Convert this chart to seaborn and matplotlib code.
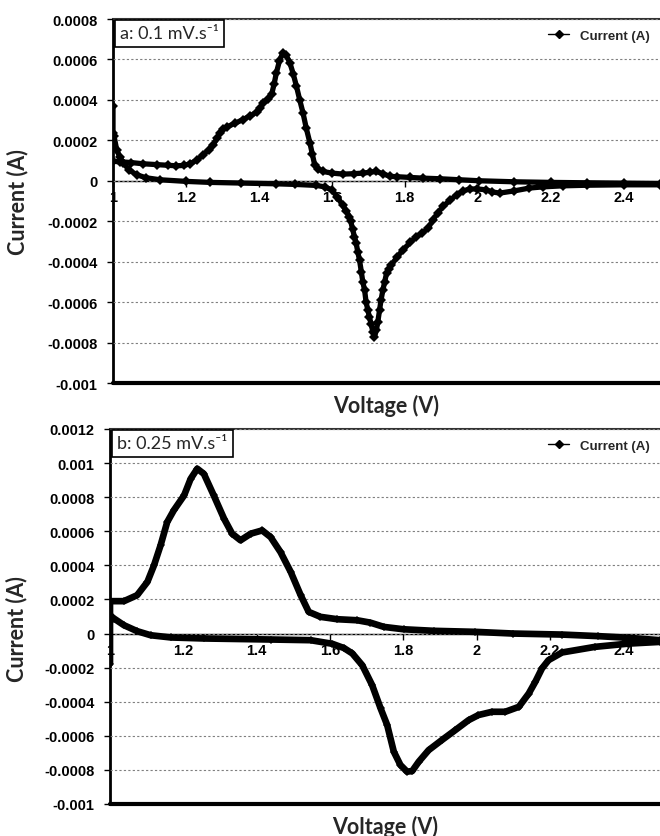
import numpy as np
import pandas as pd
import matplotlib
matplotlib.use("Agg")
import matplotlib.pyplot as plt
import seaborn as sns
from matplotlib.ticker import FuncFormatter, FixedLocator
from matplotlib.lines import Line2D

# ---------------- data ----------------
# Panel a: 0.1 mV/s, anodic sweep (1.0 -> 2.5 V)
a_an_v = [1.000, 1.02, 1.05, 1.083, 1.12, 1.15, 1.174, 1.195, 1.211, 1.23,
          1.247, 1.262, 1.275, 1.285, 1.293, 1.302, 1.312, 1.335, 1.357, 1.375,
          1.394, 1.404, 1.412, 1.425, 1.435, 1.442, 1.448, 1.456, 1.465, 1.475,
          1.485, 1.494, 1.503, 1.512, 1.521, 1.530, 1.540, 1.547, 1.553, 1.562,
          1.576, 1.60, 1.631, 1.66, 1.686, 1.705, 1.722, 1.74, 1.759, 1.78,
          1.814, 1.85, 1.896, 1.95, 2.005, 2.1, 2.2, 2.3, 2.4, 2.5]
a_an_i = [0.000096, 0.000094, 0.00009, 0.000084, 0.00008, 0.000077, 0.000074, 0.000076, 0.000084, 0.000102,
          0.000129, 0.000152, 0.000179, 0.00021, 0.000237, 0.000255, 0.000266, 0.000285, 0.000303, 0.00032,
          0.000339, 0.000362, 0.000385, 0.000405, 0.000427, 0.00048, 0.000534, 0.00059, 0.00063, 0.00062,
          0.000584, 0.00053, 0.000468, 0.0004, 0.000336, 0.00026, 0.000187, 0.00013, 0.000079, 0.00006,
          0.000046, 0.000038, 0.000033, 0.000035, 0.000038, 0.000042, 0.000046, 0.000035, 0.000022, 0.00002,
          0.000017, 0.000013, 0.00001, 0.000005, 0.0, -0.000005, -0.000008, -0.00001, -0.000012, -0.000014]
# Panel a: cathodic sweep (2.5 -> 1.0 V)
a_ca_v = [2.5, 2.4, 2.3, 2.233, 2.18, 2.142, 2.1, 2.060, 2.04, 2.023,
          1.998, 1.978, 1.96, 1.942, 1.925, 1.905, 1.89, 1.877, 1.864, 1.848,
          1.832, 1.815, 1.795, 1.78, 1.763, 1.756, 1.750, 1.745, 1.740, 1.735,
          1.731, 1.726, 1.722, 1.717, 1.713, 1.708, 1.703, 1.699, 1.694, 1.690,
          1.685, 1.681, 1.676, 1.671, 1.667, 1.662, 1.657, 1.652, 1.648, 1.640,
          1.630, 1.615, 1.600, 1.58, 1.558, 1.5, 1.448, 1.35, 1.266, 1.2,
          1.129, 1.09, 1.065, 1.045, 1.028, 1.018, 1.010, 1.003, 1.0, 1.0]
a_ca_i = [-0.00002, -0.00002, -0.000022, -0.000025, -0.00003, -0.000036, -0.00005, -0.000061, -0.000055, -0.000045,
          -0.00004, -0.000041, -0.00005, -0.00007, -0.000095, -0.000127, -0.00016, -0.000194, -0.000235, -0.000258,
          -0.000276, -0.000305, -0.000342, -0.000375, -0.000417, -0.000435, -0.000458, -0.0005, -0.000541, -0.00059,
          -0.00064, -0.0007, -0.00074, -0.000772, -0.00075, -0.00071, -0.000673, -0.00064, -0.0006, -0.000541,
          -0.0005, -0.00045, -0.000392, -0.00035, -0.00031, -0.000276, -0.00024, -0.0002, -0.000177, -0.00015,
          -0.000122, -0.00008, -0.000045, -0.00003, -0.000023, -0.000018, -0.000015, -0.000011, -0.000008, -0.000003,
          0.000005, 0.000015, 0.00003, 0.000052, 0.000088, 0.00012, 0.000154, 0.00022, 0.000237, 0.000372]

# Panel b: 0.25 mV/s, anodic sweep
b_an_v = [1.0, 1.0, 1.038, 1.074, 1.102, 1.120, 1.138, 1.156, 1.174, 1.202,
          1.220, 1.238, 1.256, 1.283, 1.311, 1.333, 1.356, 1.384, 1.415, 1.438,
          1.465, 1.493, 1.520, 1.542, 1.574, 1.620, 1.674, 1.710, 1.747, 1.801,
          1.883, 1.996, 2.1, 2.233, 2.33, 2.414, 2.5]
b_an_i = [-0.000176, 0.00019, 0.00019, 0.000225, 0.000303, 0.0004, 0.000518, 0.000654, 0.000723, 0.00081,
          0.000908, 0.000967, 0.000937, 0.00081, 0.000674, 0.000586, 0.000547, 0.000586, 0.000605, 0.000566,
          0.000478, 0.000361, 0.000225, 0.000127, 0.000098, 0.000084, 0.000078, 0.000064, 0.000039, 0.000025,
          0.000016, 0.00001, 0.0, -0.000006, -0.000015, -0.000025, -0.000039]
# Panel b: cathodic sweep
b_ca_v = [2.5, 2.414, 2.323, 2.233, 2.196, 2.178, 2.160, 2.142, 2.115, 2.078,
          2.042, 2.005, 1.978, 1.942, 1.905, 1.869, 1.842, 1.824, 1.810, 1.792,
          1.774, 1.756, 1.738, 1.715, 1.688, 1.661, 1.638, 1.606, 1.547, 1.438,
          1.256, 1.166, 1.111, 1.074, 1.038, 1.011, 1.0]
b_ca_i = [-0.000049, -0.000059, -0.000078, -0.000111, -0.000156, -0.000205, -0.000283, -0.000352, -0.00043, -0.000459,
          -0.000459, -0.000478, -0.000508, -0.000566, -0.000625, -0.000684, -0.000752, -0.000807, -0.00081, -0.000771,
          -0.000693, -0.000537, -0.000439, -0.000303, -0.000186, -0.000117, -0.000085, -0.00006, -0.000039, -0.000035,
          -0.000029, -0.000023, -0.00001, 0.000014, 0.000049, 0.000088, 0.000107]

x_ticks = [1.0, 1.2, 1.4, 1.6, 1.8, 2.0, 2.2, 2.4]
a_yticks = [-0.001, -0.0008, -0.0006, -0.0004, -0.0002, 0, 0.0002, 0.0004, 0.0006, 0.0008]
b_yticks = [-0.001, -0.0008, -0.0006, -0.0004, -0.0002, 0, 0.0002, 0.0004, 0.0006, 0.0008, 0.001, 0.0012]
a_title = "a: 0.1 mV.s\u207b\u00b9"
b_title = "b: 0.25 mV.s\u207b\u00b9"
series_name = "Current (A)"
x_label = "Voltage (V)"
y_label = "Current (A)"

# ---------------- style ----------------
sns.set_style("white")
plt.rcParams["font.family"] = ["Liberation Sans", "DejaVu Sans"]

W, H = 660, 837
fig = plt.figure(figsize=(W / 100, H / 100), dpi=100)
ax_a = fig.add_axes([113 / W, 1 - 384 / H, 1 - 113 / W, (384 - 20) / H])
ax_b = fig.add_axes([110 / W, 1 - 805 / H, 1 - 110 / W, (805 - 430) / H])

fmt = FuncFormatter(lambda v, p: f"{v:g}")


def panel(ax, an_v, an_i, ca_v, ca_i, yticks, title, lw, ms):
    df = pd.DataFrame({"Voltage": list(an_v) + list(ca_v),
                       "Current": list(an_i) + list(ca_i)})
    sns.lineplot(data=df, x="Voltage", y="Current", sort=False, estimator=None,
                 ax=ax, color="black", lw=lw, marker="D", markersize=ms,
                 markeredgewidth=0, zorder=3, legend=False)
    ax.set_xlim(1.0, 2.5)
    ax.set_ylim(yticks[0], yticks[-1])
    ax.xaxis.set_major_locator(FixedLocator(x_ticks))
    ax.yaxis.set_major_locator(FixedLocator(yticks))
    ax.xaxis.set_major_formatter(fmt)
    ax.yaxis.set_major_formatter(fmt)
    ax.yaxis.grid(True, linestyle=(0, (2, 2)), color="#7f7f7f", lw=0.8)
    ax.xaxis.grid(False)
    ax.set_axisbelow(False)
    for s in ["top", "left", "bottom", "right"]:
        ax.spines[s].set_color("black")
    ax.spines["right"].set_visible(False)
    ax.spines["left"].set_linewidth(2.0)
    ax.spines["top"].set_linewidth(1.5)
    ax.spines["top"].set_color("#333333")
    ax.spines["bottom"].set_position(("data", 0))
    ax.spines["bottom"].set_linewidth(1.0)
    ax.axhline(yticks[0], color="black", lw=3, clip_on=False, zorder=4)
    ax.tick_params(axis="x", direction="out", length=4, width=1, pad=3,
                   bottom=True, labelsize=10.5, colors="black")
    ax.tick_params(axis="y", direction="out", length=4, width=1, pad=7,
                   left=True, labelsize=10.5, colors="black")
    for lab in ax.get_xticklabels() + ax.get_yticklabels():
        lab.set_fontweight("bold")
    ax.set_xlabel(x_label, fontsize=15.5, fontweight="bold", family=["Lato", "DejaVu Sans"], va="top")
    ax.set_ylabel(y_label, fontsize=15.5, fontweight="bold", family=["Lato", "DejaVu Sans"])
    ax.text(0.013, 0.983, title, transform=ax.transAxes, ha="left", va="top",
            fontsize=13, family=["Lato", "DejaVu Sans"], zorder=6,
            bbox=dict(boxstyle="square,pad=0.3", fc="white", ec="black", lw=1.2))
    handle = Line2D([], [], color="black", lw=1, marker="D", markersize=4)
    leg = ax.legend([handle], [series_name], loc="upper right", frameon=False,
                    prop=dict(family="Liberation Sans", weight="bold", size=9.5),
                    handlelength=1.6, borderaxespad=0.4)
    leg.set_zorder(6)


panel(ax_a, a_an_v, a_an_i, a_ca_v, a_ca_i, a_yticks, a_title, 3.8, 5.0)
panel(ax_b, b_an_v, b_an_i, b_ca_v, b_ca_i, b_yticks, b_title, 4.8, 4.0)

ax_a.xaxis.set_label_coords(0.5, -0.03)
ax_b.xaxis.set_label_coords(0.5, -0.03)
ax_a.yaxis.set_label_coords(-0.155, 0.5)
ax_b.yaxis.set_label_coords(-0.15, 0.47)

fig.savefig("out.png", dpi=100)
